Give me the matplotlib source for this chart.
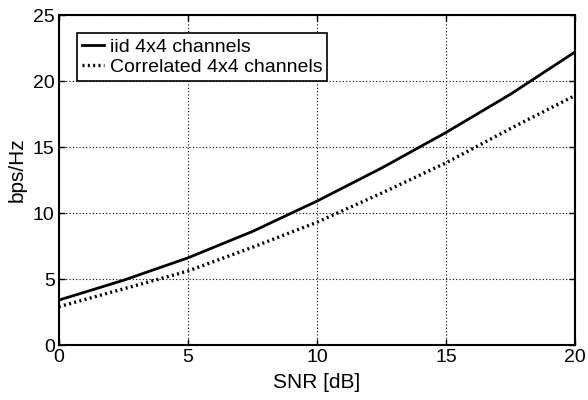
import matplotlib
matplotlib.use('Agg')
import matplotlib.pyplot as plt

# data
snr_db = [0, 2.5, 5, 7.5, 10, 12.5, 15, 17.5, 20]
iid_capacity = [3.4, 4.9, 6.6, 8.6, 10.9, 13.4, 16.1, 19.0, 22.2]
corr_capacity = [2.9, 4.25, 5.6, 7.4, 9.3, 11.5, 13.8, 16.4, 18.9]
x_ticks = [0, 5, 10, 15, 20]
y_ticks = [0, 5, 10, 15, 20, 25]

plt.rcParams['font.family'] = ['Liberation Sans', 'DejaVu Sans']

fig = plt.figure(figsize=(5.88, 4.0), dpi=100)
ax = fig.add_axes([0.100, 0.1375, 0.878, 0.825])

ax.plot(snr_db, iid_capacity, color='black', linewidth=2.0, linestyle='-',
        label='iid 4x4 channels')
ax.plot(snr_db, corr_capacity, color='black', linewidth=2.4, linestyle=(0, (0.6, 1.0)),
        label='Correlated 4x4 channels')

ax.set_xlim(0, 20)
ax.set_ylim(0, 25)
ax.set_xticks(x_ticks)
ax.set_yticks(y_ticks)
ax.tick_params(direction='in', labelsize=14, top=True, right=True, length=4,
               width=1, colors='black', pad=3)
ax.grid(True, color='black', linestyle=(0, (1, 2)), linewidth=0.8)
for s in ax.spines.values():
    s.set_linewidth(1.5)

ax.set_xlabel('SNR [dB]', fontsize=15, labelpad=5)
ax.set_ylabel('bps/Hz', fontsize=15)
ax.yaxis.set_label_coords(-0.062, 0.53)

leg = ax.legend(loc='upper left', fontsize=14, handlelength=1.15, handletextpad=0.3,
                borderpad=0.25, labelspacing=0.15, fancybox=False, framealpha=1,
                edgecolor='black', bbox_to_anchor=(0.035, 0.945), borderaxespad=0)
leg.get_frame().set_linewidth(1.2)

fig.savefig('out.png', dpi=100)
